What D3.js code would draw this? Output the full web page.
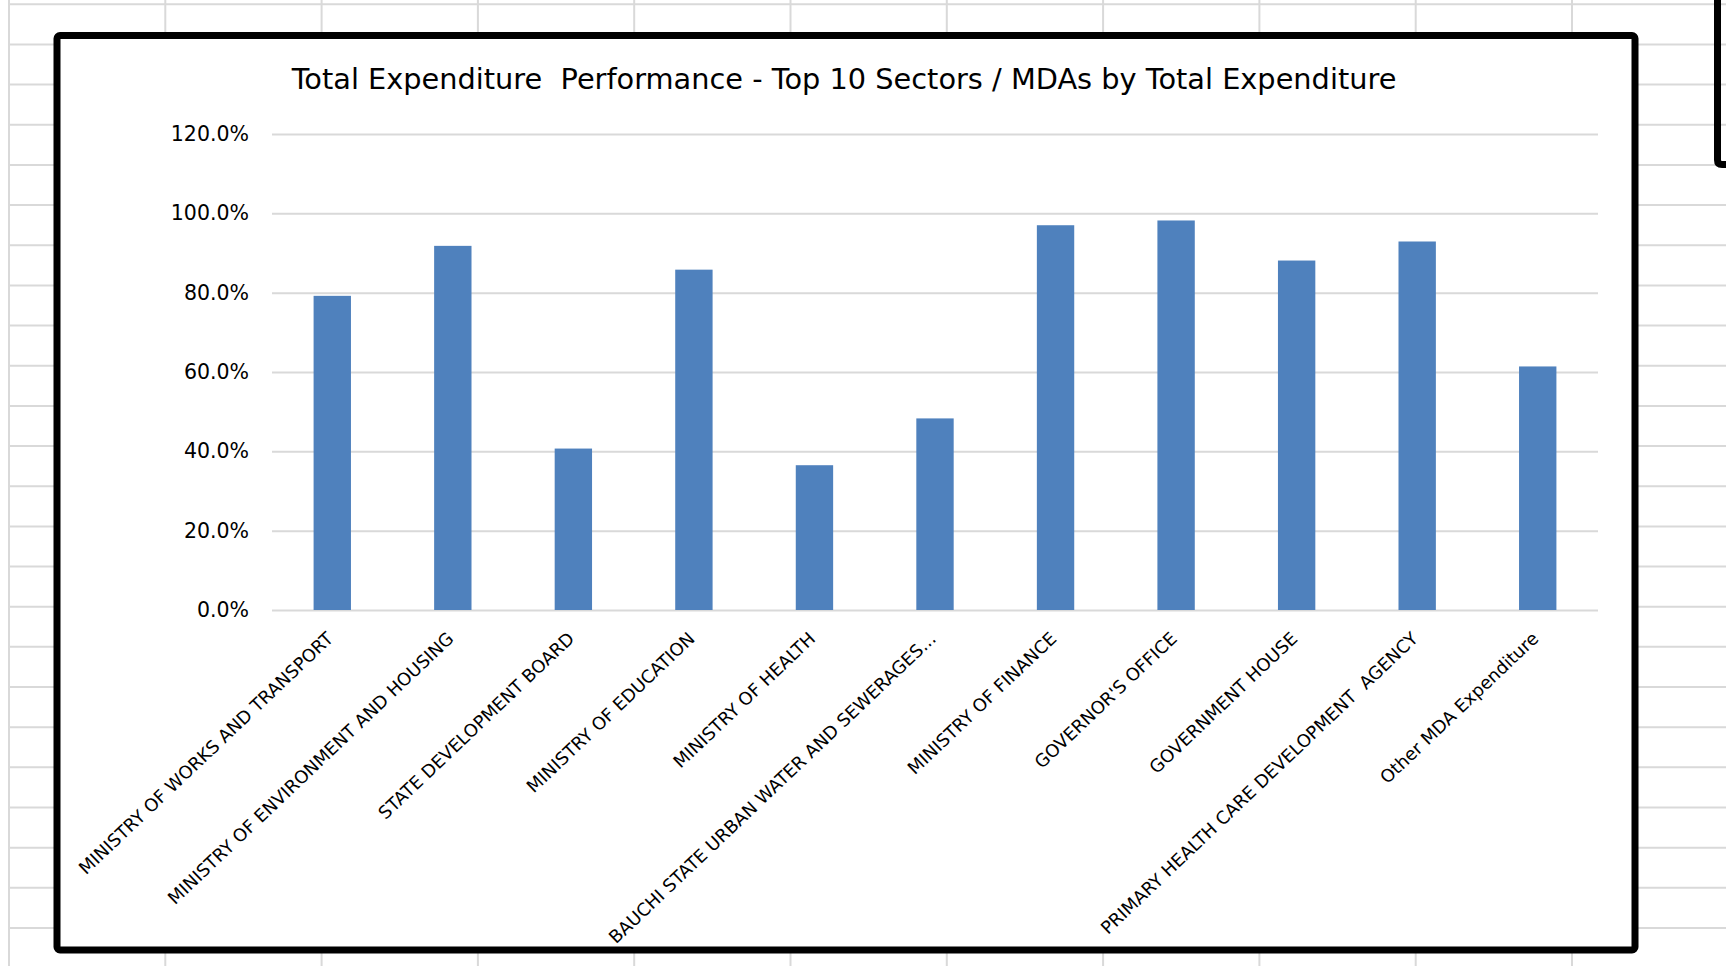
<!DOCTYPE html>
<html lang=en>
<meta charset=utf-8>
<title>Total Expenditure Performance</title>
<style>
    html, body { margin: 0; padding: 0; background: #fff; }
    svg { display: block; }
    text { font-family: Tahoma, "DejaVu Sans", sans-serif; fill: #000; }
</style>
<body>
<svg id=chart width=1726 height=966></svg>
<script src=https://cdnjs.cloudflare.com/ajax/libs/d3/7.8.5/d3.min.js></script>
<script>
// chart data
var categories = [
    "MINISTRY OF WORKS AND TRANSPORT",
    "MINISTRY OF ENVIRONMENT AND HOUSING",
    "STATE DEVELOPMENT BOARD",
    "MINISTRY OF EDUCATION",
    "MINISTRY OF HEALTH",
    "BAUCHI STATE URBAN WATER AND SEWERAGES...",
    "MINISTRY OF FINANCE",
    "GOVERNOR'S OFFICE",
    "GOVERNMENT HOUSE",
    "PRIMARY HEALTH CARE DEVELOPMENT  AGENCY",
    "Other MDA Expenditure"
];
var values = [79.2, 91.8, 40.7, 85.8, 36.5, 48.3, 97.0, 98.2, 88.1, 92.9, 61.4];
var yTicks = [0, 20, 40, 60, 80, 100, 120];
var title = "Total Expenditure  Performance - Top 10 Sectors / MDAs by Total Expenditure";

var svg = d3.select("#chart");
var W = 1726, H = 966;
var gridColor = "#d9d9d9";

// spreadsheet cells behind the chart
var sheet = svg.append("g").attr("class", "sheet");
sheet.selectAll(".col").data(d3.range(9, W, 156.3)).enter()
    .append("line")
    .attr("x1", function (d) { return d; }).attr("x2", function (d) { return d; })
    .attr("y1", 0).attr("y2", H)
    .attr("stroke", gridColor).attr("stroke-width", 2);
sheet.selectAll(".row").data(d3.range(4.3, H, 40.16)).enter()
    .append("line")
    .attr("x1", 9).attr("x2", W)
    .attr("y1", function (d) { return d; }).attr("y2", function (d) { return d; })
    .attr("stroke", gridColor).attr("stroke-width", 2);

// edge of the neighbouring chart
svg.append("path")
    .attr("d", "M1717.5,0 V160 Q1717.5,164.5 1722,164.5 H1730")
    .attr("fill", "none").attr("stroke", "#000").attr("stroke-width", 7);

// chart frame
svg.append("rect")
    .attr("x", 57).attr("y", 35.5)
    .attr("width", 1578).attr("height", 914.5)
    .attr("rx", 3)
    .attr("fill", "#fff").attr("stroke", "#000").attr("stroke-width", 7);

// title
svg.append("text")
    .attr("x", 844).attr("y", 89)
    .attr("text-anchor", "middle")
    .attr("font-size", 28.8)
    .style("white-space", "pre")
    .text(title);

// plot area
var plot = {left: 272, right: 1598, top: 134, bottom: 610};

var x = d3.scaleBand()
    .domain(categories)
    .range([plot.left, plot.right])
    .paddingInner(0.69)
    .paddingOuter(0.345);

var y = d3.scaleLinear()
    .domain([0, 120])
    .range([plot.bottom, plot.top]);

// horizontal gridlines + y labels
var yAxis = d3.axisLeft(y)
    .tickValues(yTicks)
    .tickSize(-(plot.right - plot.left))
    .tickPadding(23)
    .tickFormat(function (d) { return d3.format(".1f")(d) + "%"; });

var gy = svg.append("g")
    .attr("transform", "translate(" + plot.left + ",0)")
    .call(yAxis);
gy.select(".domain").remove();
gy.selectAll(".tick line").attr("stroke", gridColor).attr("stroke-width", 2);
gy.selectAll(".tick text")
    .attr("font-size", 20.5)
    .attr("font-family", null)
    .attr("fill", "#000");

// bars
svg.append("g").selectAll("rect").data(values).enter()
    .append("rect")
    .attr("x", function (d, i) { return x(categories[i]); })
    .attr("y", function (d) { return y(d); })
    .attr("width", x.bandwidth())
    .attr("height", function (d) { return y(0) - y(d); })
    .attr("fill", "#4f81bd");

// rotated category labels
var xAxis = d3.axisBottom(x).tickSize(0).tickPadding(0);
var gx = svg.append("g")
    .attr("transform", "translate(0," + plot.bottom + ")")
    .call(xAxis);
gx.select(".domain").remove();
gx.selectAll(".tick text")
    .attr("font-size", 17.8)
    .attr("font-family", null)
    .attr("fill", "#000")
    .attr("text-anchor", "end")
    .attr("dy", null)
    .attr("y", null)
    .style("white-space", "pre")
    .attr("transform", "translate(2,30) rotate(-43.5)");
</script>
</body>
</html>
